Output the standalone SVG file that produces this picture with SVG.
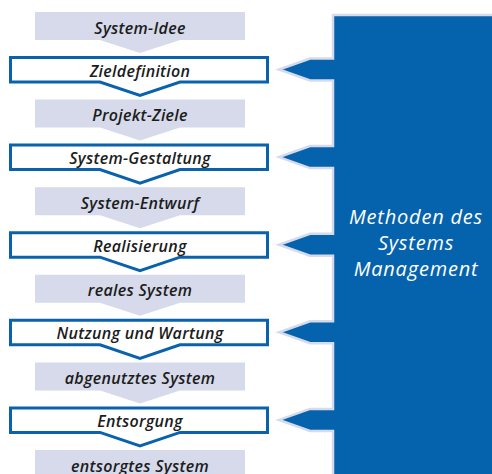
<svg xmlns="http://www.w3.org/2000/svg" width="492" height="474" viewBox="0 0 492 474">
<defs>
<style>
.gray{fill:#d6daeb;}
.wbox{fill:#ffffff;stroke:#0a62ac;stroke-width:3;stroke-linejoin:miter;}
.t{font-family:"Open Sans","Liberation Sans",sans-serif;font-style:italic;font-weight:600;font-size:16px;letter-spacing:0.3px;fill:#1c1c1c;text-anchor:middle;}
.pt{font-family:"Open Sans","Liberation Sans",sans-serif;font-style:italic;font-weight:500;font-size:20px;letter-spacing:0.8px;fill:#ffffff;text-anchor:middle;}
.panel{fill:#0562ac;stroke:#d6dbec;stroke-width:2.5;stroke-linejoin:miter;}
</style>
<path id="grayshape" d="M35,0 H245 V28 H180 L140,41 L100,28 H35 Z"/>
<path id="whiteshape" d="M10.5,1.5 H267.5 V26 H180 L140,39.5 L100,26 H10.5 Z"/>
</defs>

<g id="panel">
<path class="panel" d="M333,15 H494 V476 H333 V431 H310 L279,419.9 L310,408.9 H333 V343.3 H310 L279,332.3 L310,321.3 H333 V255.7 H310 L279,244.7 L310,233.7 H333 V168.1 H310 L279,157.1 L310,146.1 H333 V80.5 H310 L279,69.5 L310,58.5 H333 Z"/>
<text class="pt" x="416" y="224">Methoden des</text>
<text class="pt" x="416" y="250">Systems</text>
<text class="pt" x="416" y="276">Management</text>
</g>

<g id="n-system-idee" transform="translate(0,12)">
<use href="#grayshape" class="gray"/>
<text class="t" x="140" y="21.5">System-Idee</text>
</g>
<g id="n-zieldefinition" transform="translate(0,56)">
<use href="#whiteshape" class="wbox"/>
<text class="t" x="140" y="20.5">Zieldefinition</text>
</g>
<g id="n-projekt-ziele" transform="translate(0,99.6)">
<use href="#grayshape" class="gray"/>
<text class="t" x="140" y="21.5">Projekt-Ziele</text>
</g>
<g id="n-system-gestaltung" transform="translate(0,143.6)">
<use href="#whiteshape" class="wbox"/>
<text class="t" x="140" y="20.5">System-Gestaltung</text>
</g>
<g id="n-system-entwurf" transform="translate(0,187.2)">
<use href="#grayshape" class="gray"/>
<text class="t" x="140" y="21.5">System-Entwurf</text>
</g>
<g id="n-realisierung" transform="translate(0,231.2)">
<use href="#whiteshape" class="wbox"/>
<text class="t" x="140" y="20.5">Realisierung</text>
</g>
<g id="n-reales-system" transform="translate(0,274.8)">
<use href="#grayshape" class="gray"/>
<text class="t" x="140" y="21.5">reales System</text>
</g>
<g id="n-nutzung" transform="translate(0,318.8)">
<use href="#whiteshape" class="wbox"/>
<text class="t" x="140" y="20.5">Nutzung und Wartung</text>
</g>
<g id="n-abgenutztes" transform="translate(0,362.4)">
<use href="#grayshape" class="gray"/>
<text class="t" x="140" y="21.5">abgenutztes System</text>
</g>
<g id="n-entsorgung" transform="translate(0,406.4)">
<use href="#whiteshape" class="wbox"/>
<text class="t" x="140" y="20.5">Entsorgung</text>
</g>
<g id="n-entsorgtes" transform="translate(0,450)">
<use href="#grayshape" class="gray"/>
<text class="t" x="140" y="21.5">entsorgtes System</text>
</g>
<g id="connectors"></g>
</svg>
